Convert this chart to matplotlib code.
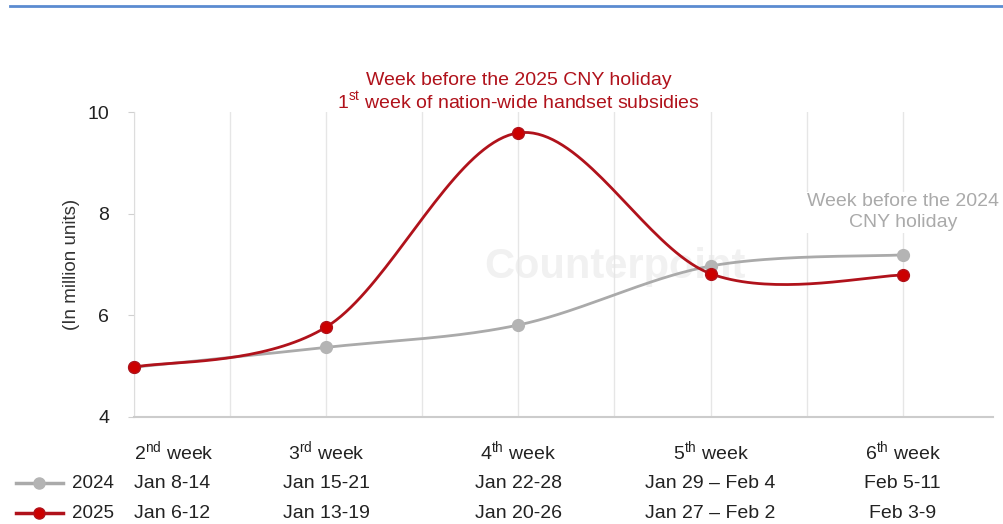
import numpy as np
import matplotlib
matplotlib.use("Agg")
import matplotlib.pyplot as plt
from matplotlib.lines import Line2D
import matplotlib.transforms as mtransforms

plt.rcParams['font.family'] = ['Liberation Sans', 'DejaVu Sans']
plt.rcParams['mathtext.fontset'] = 'custom'
plt.rcParams['mathtext.rm'] = 'Liberation Sans'

# data
weeks = ['2$^{\\rm nd}$ week', '3$^{\\rm rd}$ week', '4$^{\\rm th}$ week',
         '5$^{\\rm th}$ week', '6$^{\\rm th}$ week']
dates_2024 = ['Jan 8-14', 'Jan 15-21', 'Jan 22-28', 'Jan 29 \u2013 Feb 4', 'Feb 5-11']
dates_2025 = ['Jan 6-12', 'Jan 13-19', 'Jan 20-26', 'Jan 27 \u2013 Feb 2', 'Feb 3-9']
sales_2024 = [4.98, 5.37, 5.81, 6.97, 7.19]
sales_2025 = [4.98, 5.77, 9.59, 6.82, 6.79]

RED = '#b0121b'
RED_MK = '#cc0000'
GREY = '#aaaaaa'
GREY_MK = '#b4b4b4'


def smooth(xs, ys, n=40):
    """Bezier smoothing through the points (like spreadsheet smoothed lines)."""
    xs = np.asarray(xs, float)
    ys = np.asarray(ys, float)
    px = np.concatenate([[xs[0]], xs, [xs[-1]]])
    py = np.concatenate([[ys[0]], ys, [ys[-1]]])
    outx, outy = [], []
    t = np.linspace(0, 1, n)
    for i in range(len(xs) - 1):
        p0 = np.array([xs[i], ys[i]])
        p3 = np.array([xs[i + 1], ys[i + 1]])
        p1 = p0 + (np.array([px[i + 2], py[i + 2]]) - np.array([px[i], py[i]])) / 6
        p2 = p3 - (np.array([px[i + 3], py[i + 3]]) - np.array([px[i + 1], py[i + 1]])) / 6
        b = ((1 - t) ** 3)[:, None] * p0 + (3 * t * (1 - t) ** 2)[:, None] * p1 \
            + (3 * t ** 2 * (1 - t))[:, None] * p2 + (t ** 3)[:, None] * p3
        outx.extend(b[:, 0])
        outy.extend(b[:, 1])
    return np.array(outx), np.array(outy)


fig = plt.figure(figsize=(10.04, 5.24), dpi=100)
ax = fig.add_axes([0.1335, 0.2042, 0.8556, 0.582])

x = np.arange(len(weeks))
ax.set_xlim(0, 4.47)
ax.set_ylim(4, 10)
ax.set_yticks([4, 6, 8, 10])
ax.set_xticks(np.arange(0, 4.5, 0.5))
ax.set_xticklabels([])
ax.grid(axis='x', color='#e6e6e6', linewidth=1)
ax.tick_params(axis='x', length=0)
ax.tick_params(axis='y', length=4, color='#d0d0d0', pad=14, labelsize=14, labelcolor='#222222')
for s in ['top', 'right']:
    ax.spines[s].set_visible(False)
ax.spines['left'].set_color('#dddddd')
ax.spines['bottom'].set_color('#cccccc')
ax.spines['bottom'].set_linewidth(1.5)
ax.set_ylabel('(In million units)', fontsize=13.5, color='#333333', labelpad=5)

# watermark
ax.text(2.5, 6.95, 'Counterpoint', fontsize=30, color='#f1f1f1', ha='center',
        va='center', fontweight='bold', zorder=0)

sx, sy = smooth(x, sales_2024)
ax.plot(sx, sy, color=GREY, lw=2, zorder=3, clip_on=False)
ax.plot(x, sales_2024, 'o', color=GREY_MK, ms=8.5, zorder=4, clip_on=False)
sx, sy = smooth(x, sales_2025)
ax.plot(sx, sy, color=RED, lw=2, zorder=5, clip_on=False)
ax.plot(x, sales_2025, 'o', color=RED_MK, mec=RED, ms=8.5, zorder=6, clip_on=False)

# annotations
ax.text(2, 10.62, 'Week before the 2025 CNY holiday', color=RED, fontsize=14,
        ha='center', va='center')
ax.text(2, 10.2, '1$^{\\rm st}$ week of nation-wide handset subsidies', color=RED,
        fontsize=14, ha='center', va='center')
ax.text(4, 8.03, 'Week before the 2024\nCNY holiday', color=GREY, fontsize=14,
        ha='center', va='center', linespacing=1.35,
        bbox=dict(facecolor='white', edgecolor='none', pad=1))

# category label table under the axis
trans = mtransforms.blended_transform_factory(ax.transData, fig.transFigure)
rows = [(weeks, 1 - 452 / 524), (dates_2024, 1 - 484 / 524), (dates_2025, 1 - 514 / 524)]
for labels, yy in rows:
    for i, lab in enumerate(labels):
        ax.text(i, yy, lab, transform=trans, fontsize=14, color='#222222',
                ha='left' if i == 0 else 'center', va='center', clip_on=False)

# legend keys at left of the rows
for yy, col, mcol, mec, name in [(1 - 483 / 524, GREY, GREY_MK, GREY_MK, '2024'),
                                 (1 - 513 / 524, RED, RED_MK, RED, '2025')]:
    fig.add_artist(Line2D([16 / 1004, 63 / 1004], [yy, yy], color=col, lw=2.5))
    fig.add_artist(Line2D([39 / 1004], [yy], marker='o', color=mcol, mec=mec, ms=8))
    fig.text(114 / 1004, yy, name, fontsize=13.5, color='#222222', ha='right', va='center')

# top rule
fig.add_artist(Line2D([10 / 1004, 1], [1 - 6 / 524, 1 - 6 / 524], color='#5b8bd0', lw=2))

fig.savefig('out.png', dpi=100)
